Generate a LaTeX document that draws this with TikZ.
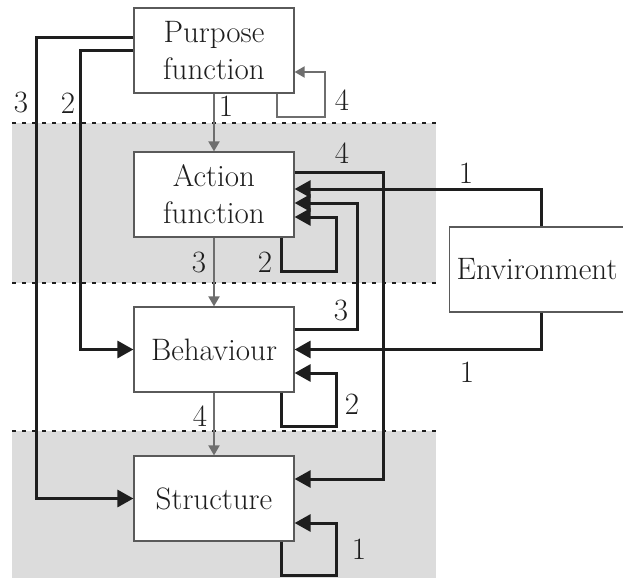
\documentclass[tikz,border=0pt]{standalone}
\usetikzlibrary{arrows.meta}
\definecolor{band}{RGB}{220,220,220}
\definecolor{boxline}{RGB}{90,90,90}
\definecolor{grayarrow}{RGB}{110,110,110}
\definecolor{ink}{RGB}{30,30,30}
\tikzset{
  box/.style={draw=boxline, line width=1.2pt, fill=white, minimum width=160pt,
    minimum height=85pt, align=center, inner sep=0pt, text=ink},
  blk/.style={draw=ink, line width=3pt, -{Triangle[length=16pt,width=17pt]}},
  gry/.style={draw=grayarrow, line width=2pt, -{Triangle[length=10pt,width=11pt]}},
  lbl/.style={inner sep=0pt, text=ink},
  sep/.style={draw=ink, line width=2pt, dash pattern=on 4pt off 6pt}
}
\begin{document}
\begin{tikzpicture}[x=1pt,y=-1pt,font=\fontsize{31}{37}\selectfont]
\useasboundingbox (0,0) rectangle (623,578);
\clip (0,0) rectangle (623,578);
% bands
\fill[band] (12,123) rectangle (436,283);
\fill[band] (12,431) rectangle (436,578);
\draw[sep] (12,123) -- (436,123);
\draw[sep] (12,283) -- (436,283);
\draw[sep] (12,431) -- (436,431);
% nodes
\node[box] (P) at (214,50.5) {Purpose\\function};
\node[box] (A) at (214,194.5) {Action\\function};
\node[box] (B) at (214,349.5) {Behaviour};
\node[box] (S) at (214,498.5) {Structure};
\node[box, anchor=west, align=left, text width=186pt, inner xsep=7pt, minimum width=200pt] (E) at (449,269.5) {Environment};
% gray arrows
\draw[gry] (P.south) -- (A.north);
\draw[gry] (A.south) -- (B.north);
\draw[gry] (B.south) -- (S.north);
\draw[gry] ([xshift=63pt]P.south) |- (325,117) |- ([yshift=-21.5pt]P.east);
% black arrows
\draw[blk] ([yshift=12.5pt]P.west) -| (36,300) |- (S.west);
\draw[blk] (P.west) -| (80,200) |- (B.west);
\draw[blk] ([yshift=22.5pt]A.east) -| (383,300) |- ([yshift=19.5pt]S.east);
\draw[blk] ([xshift=92pt]E.north west) |- ([yshift=5.5pt]A.east);
\draw[blk] ([yshift=20.5pt]B.east) -| (357,250) |- ([yshift=-8.5pt]A.east);
\draw[blk] ([xshift=67pt]A.south) |- (336,271) |- ([yshift=-22.5pt]A.east);
\draw[blk] ([xshift=92pt]E.south west) |- (B.east);
\draw[blk] ([xshift=67pt]B.south) |- (336,426) |- ([yshift=-23.5pt]B.east);
\draw[blk] ([xshift=67pt]S.south) |- (336,575) |- ([yshift=-24.5pt]S.east);
% labels
\node[lbl] (l1) at (226,106) {1};
\node[lbl] (l2) at (342,100) {4};
\node[lbl] (l3) at (21,103) {3};
\node[lbl] (l4) at (68,103) {2};
\node[lbl] (l5) at (342,153) {4};
\node[lbl] (l6) at (466,173) {1};
\node[lbl] (l7) at (199,262) {3};
\node[lbl] (l8) at (265,262) {2};
\node[lbl] (l9) at (341,310) {3};
\node[lbl] (l10) at (467,372) {1};
\node[lbl] (l11) at (352,404) {2};
\node[lbl] (l12) at (200,416) {4};
\node[lbl] (l13) at (359,549) {1};
\end{tikzpicture}
\end{document}
